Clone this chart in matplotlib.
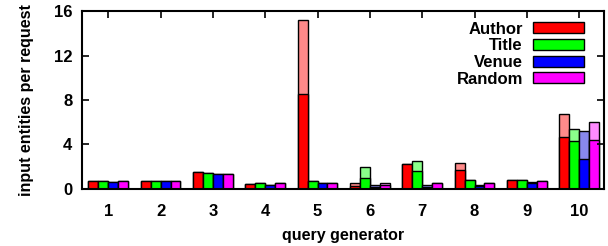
import numpy as np
import matplotlib
matplotlib.use("Agg")
import matplotlib.pyplot as plt
from matplotlib.patches import Patch

plt.rcParams["font.family"] = ["Liberation Sans", "DejaVu Sans"]
plt.rcParams["font.weight"] = "bold"
plt.rcParams["axes.labelweight"] = "bold"

generators = [1, 2, 3, 4, 5, 6, 7, 8, 9, 10]
series = ["Author", "Title", "Venue", "Random"]

# dark part of each bar and the top of the lighter part
author_dark = [0.75, 0.75, 1.53, 0.42, 8.53, 0.30, 2.22, 1.71, 0.78, 4.71]
author_top = [0.75, 0.75, 1.53, 0.42, 15.2, 0.57, 2.22, 2.30, 0.78, 6.70]
title_dark = [0.75, 0.75, 1.47, 0.54, 0.69, 1.02, 1.65, 0.78, 0.78, 4.32]
title_top = [0.75, 0.75, 1.47, 0.54, 0.69, 2.00, 2.49, 0.78, 0.78, 5.40]
venue_dark = [0.66, 0.68, 1.35, 0.33, 0.51, 0.20, 0.20, 0.27, 0.57, 2.70]
venue_top = [0.66, 0.68, 1.35, 0.33, 0.55, 0.39, 0.35, 0.33, 0.66, 5.20]
random_dark = [0.70, 0.70, 1.38, 0.57, 0.50, 0.33, 0.57, 0.57, 0.69, 4.44]
random_top = [0.70, 0.70, 1.38, 0.57, 0.57, 0.57, 0.57, 0.57, 0.69, 6.00]

dark = [author_dark, title_dark, venue_dark, random_dark]
top = [author_top, title_top, venue_top, random_top]
colors = ["#ff0000", "#00ff00", "#0000ff", "#ff00ff"]
light = ["#ff8a8a", "#8aff8a", "#8888ee", "#ff8aff"]

fig = plt.figure(figsize=(6.08, 2.46), dpi=100)
ax = fig.add_axes([0.135, 0.232, 0.858, 0.723])

x = np.array(generators)
w = 0.19
for i in range(4):
    pos = x + (i - 1.5) * w
    ax.bar(pos, top[i], w, color=light[i], edgecolor="black", linewidth=1)
    ax.bar(pos, dark[i], w, color=colors[i], edgecolor="black", linewidth=1)

ax.set_xlim(0.5, 10.47)
ax.set_ylim(0, 16)
ax.set_yticks([0, 4, 8, 12, 16])
ax.set_xticks(generators)
ax.tick_params(direction="in", top=True, right=True, bottom=False,
               labelsize=12, length=5, width=1.2)
ax.tick_params(axis="y", pad=7)
ax.tick_params(axis="x", pad=10.5)
for s in ax.spines.values():
    s.set_linewidth(1.5)

ax.set_xlabel("query generator", fontsize=11.5, labelpad=7)
ax.set_ylabel("input entities per request", fontsize=11.5, labelpad=14)

handles = [Patch(facecolor=c, edgecolor="black", linewidth=1) for c in colors]
ax.legend(handles, series, loc="upper right", bbox_to_anchor=(0.962, 0.94),
          frameon=False, markerfirst=False, fontsize=12, handlelength=3.06,
          handleheight=0.65, labelspacing=0.1, handletextpad=0.6,
          borderaxespad=0, borderpad=0)

fig.savefig("out.png", dpi=100)
